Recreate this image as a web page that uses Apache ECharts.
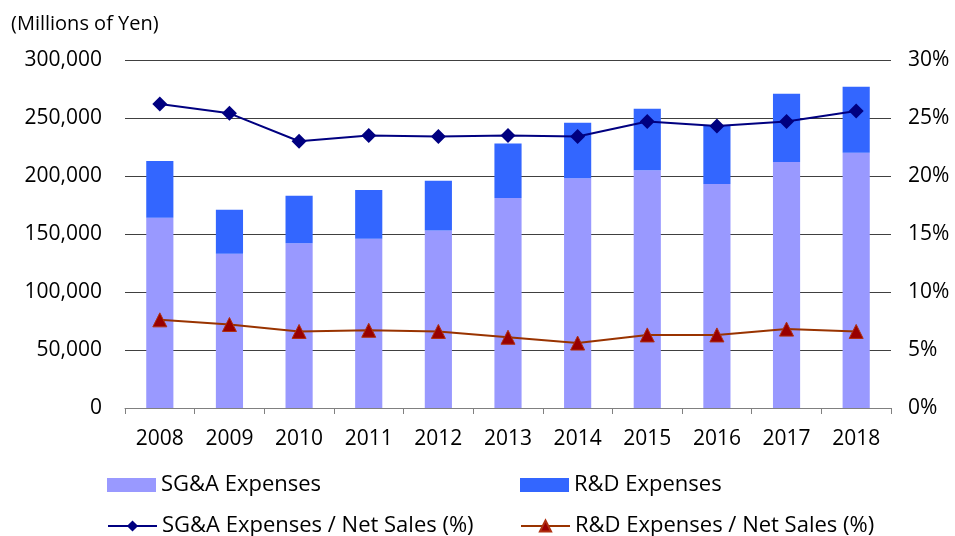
<!DOCTYPE html>
<html><head><meta charset="utf-8">
<script src="https://cdn.jsdelivr.net/npm/echarts@6/dist/echarts.min.js"></script>
<style>html,body{margin:0;padding:0;background:#fff}#c{width:955px;height:536px}</style>
</head><body><div id="c"></div>
<script>
const years = ['2008','2009','2010','2011','2012','2013','2014','2015','2016','2017','2018'];
const sgaExpenses = [164000,133000,142000,146000,153000,181000,198000,205000,193000,212000,220000];
const rdExpenses  = [49000,38000,41000,42000,43000,47000,48000,53000,51000,59000,57000];
const sgaRatio = [26.2,25.4,23.0,23.5,23.4,23.5,23.4,24.7,24.3,24.7,25.6];
const rdRatio  = [7.6,7.2,6.6,6.7,6.6,6.1,5.6,6.3,6.3,6.8,6.6];

const FONT = 'Open Sans';
const chart = echarts.init(document.getElementById('c'));
const legendText = {fontSize:22, color:'#000', fontFamily:FONT, lineHeight:24};
function lg(name, left, top, icon){
  return {data:[{name:name, icon:icon}], left:left, top:top, itemWidth:49, itemHeight:14, itemGap:10,
    textStyle:legendText, selectedMode:false, padding:0};
}
chart.setOption({
  animation:false,
  title:{text:'(Millions of Yen)', left:11, top:14, padding:0,
    textStyle:{fontSize:20, fontWeight:'normal', color:'#000', fontFamily:FONT}},
  grid:{left:125, right:64, top:60, bottom:128},
  legend:[
    lg('SG&A Expenses',107,473,'rect'),
    lg('R&D Expenses',520,473,'rect'),
    lg('SG&A Expenses / Net Sales (%)',107,514),
    lg('R&D Expenses / Net Sales (%)',520,514)
  ],
  xAxis:{type:'category', data:years, boundaryGap:true,
    axisLine:{lineStyle:{color:'#808080', width:1}},
    axisTick:{show:true, length:6, lineStyle:{color:'#808080'}},
    axisLabel:{fontSize:21, color:'#000', fontFamily:FONT, margin:21}},
  yAxis:[
    {type:'value', min:0, max:300000, interval:50000,
      axisLine:{show:false}, axisTick:{show:false},
      splitLine:{lineStyle:{color:'#404040', width:1}},
      axisLabel:{fontSize:21, color:'#000', fontFamily:FONT, margin:23,
        formatter:v=>v.toLocaleString('en-US')}},
    {type:'value', min:0, max:30, interval:5,
      axisLine:{show:false}, axisTick:{show:false}, splitLine:{show:false},
      axisLabel:{fontSize:21, color:'#000', fontFamily:FONT, margin:17, formatter:'{value}%'}}
  ],
  series:[
    {name:'SG&A Expenses', type:'bar', stack:'a', data:sgaExpenses, barWidth:'39%',
      itemStyle:{color:'#9999FF'}},
    {name:'R&D Expenses', type:'bar', stack:'a', data:rdExpenses, barWidth:'39%',
      itemStyle:{color:'#3366FF'}},
    {name:'SG&A Expenses / Net Sales (%)', type:'line', yAxisIndex:1, data:sgaRatio,
      symbol:'diamond', symbolSize:15, lineStyle:{color:'#000080', width:2},
      itemStyle:{color:'#000080'}},
    {name:'R&D Expenses / Net Sales (%)', type:'line', yAxisIndex:1, data:rdRatio,
      symbol:'triangle', symbolSize:14, lineStyle:{color:'#993300', width:2},
      itemStyle:{color:'#990000', borderColor:'#B03010', borderWidth:1}}
  ]
});
</script></body></html>
